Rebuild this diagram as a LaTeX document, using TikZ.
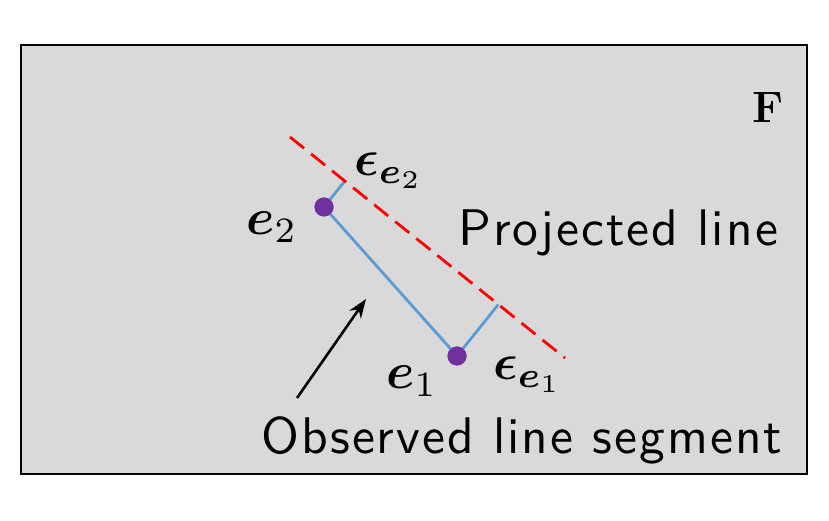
\documentclass[tikz,border=0pt]{standalone}
\usepackage{amsmath}
\usepackage{bm}
\usepackage{fontspec}
\newfontfamily\spsans{lmsans10-regular}[Extension=.otf, LetterSpace=4]
\usetikzlibrary{arrows.meta,calc}
\definecolor{boxgray}{HTML}{D9D9D9}
\definecolor{segblue}{HTML}{5B9BD5}
\definecolor{dotpurple}{HTML}{7030A0}
\tikzset{
  frame/.style={draw=black, fill=boxgray, line width=2.4pt},
  projline/.style={draw=red, line width=2.8pt, dash pattern=on 18pt off 9pt},
  segline/.style={draw=segblue, line width=2.8pt},
  ptdot/.style={circle, fill=dotpurple, inner sep=0pt, minimum size=19pt},
  lbl/.style={inner sep=0pt, anchor=base, font=\spsans\fontsize{51.5}{56}\selectfont},
  mlbl/.style={inner sep=0pt, scale=5.1, transform shape=false},
  pointer/.style={draw=black, line width=2.6pt, -{Stealth[length=19pt,width=14pt]}}
}
\begin{document}
\begin{tikzpicture}[x=1pt,y=-1pt]
\useasboundingbox (0,0) rectangle (829,521);
\path[frame] (21,45) rectangle (807,474);
\node[inner sep=0pt, font=\bfseries\fontsize{44}{48}\selectfont] (F) at (768,108) {F};
% projected line
\coordinate (P1) at (290,137);
\coordinate (P2) at (565,358);
\node[ptdot] (e2) at (324,207) {};
\node[ptdot] (e1) at (457,356) {};
\coordinate (f2) at ($(P1)!(e2)!(P2)$);
\coordinate (f1) at ($(P1)!(e1)!(P2)$);
\draw[segline] (e2.center) -- (e1.center);
\draw[segline] (e2.center) -- (f2);
\draw[segline] (e1.center) -- (f1);
\draw[projline] (P1) -- (P2);
\node[ptdot] at (e2) {};
\node[ptdot] at (e1) {};
% labels
\node[mlbl] (le2) at (272,227) {$\bm{e}_2$};
\node[mlbl] (le1) at (412,381) {$\bm{e}_1$};
\node[mlbl] (ee2) at (389,171) {$\bm{\epsilon}_{\bm{e}_2}$};
\node[mlbl] (ee1) at (528,375) {$\bm{\epsilon}_{\bm{e}_1}$};
\node[lbl] (proj) at (618,246) {Projected line};
\node[lbl] (obs) at (522,453) {Observed line segment};
\coordinate (a0) at (297,398);
\coordinate (a1) at (366,299);
\draw[pointer] (a0) -- (a1);
\end{tikzpicture}
\end{document}
